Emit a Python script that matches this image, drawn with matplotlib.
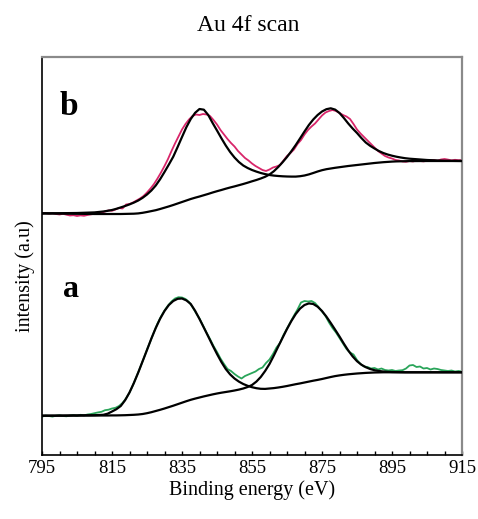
import numpy as np
import matplotlib
matplotlib.use("Agg")
import matplotlib.pyplot as plt
from matplotlib.ticker import MultipleLocator

plt.rcParams['font.family'] = ['Liberation Serif', 'DejaVu Serif']

# Binding energy grids (eV): measured spectra every 1 eV; fitted curves are
# sampled coarsely on the flat ends and every 1.25 eV across the peaks
energy_data = np.arange(795, 916, 1.0)
energy_fit = np.concatenate([[795, 800, 805, 810],
                             np.arange(812.5, 900.01, 1.25),
                             [905, 910, 915]])

# Spectrum a (green) and its two fitted components (peak + background)
spectrum_a = [
    38.3, 39.4, 39.0, 38.4, 39.3, 39.8, 39.0, 38.7, 39.5, 39.9,
    39.2, 40.2, 39.6, 40.5, 41.0, 41.8, 42.6, 43.2, 44.8, 45.3,
    46.5, 47.2, 49.0, 52.0, 56.5, 62.5, 70.0, 78.5, 87.0, 96.0,
    105.5, 114.0, 123.0, 131.5, 138.5, 144.5, 149.5, 153.5, 156.5, 157.8,
    157.5, 156.0, 153.0, 148.0, 142.0, 136.5, 129.5, 122.5, 116.0, 109.0,
    103.0, 96.5, 91.0, 86.0, 84.0, 81.0, 78.5, 76.5, 79.0, 80.5,
    82.0, 83.5, 86.0, 87.5, 92.0, 95.5, 101.0, 107.5, 112.0, 120.0,
    126.5, 133.0, 139.5, 145.5, 152.5, 154.0, 153.5, 154.0, 152.0, 148.0,
    143.5, 139.0, 132.5, 127.0, 122.5, 117.0, 111.5, 106.0, 102.5, 100.5,
    95.0, 91.0, 88.5, 88.0, 86.5, 87.0, 85.5, 86.5, 85.0, 84.5,
    85.0, 84.0, 84.5, 84.8, 86.5, 89.5, 90.0, 88.0, 88.5, 86.5,
    87.0, 85.5, 86.5, 86.0, 85.0, 84.5, 84.0, 84.5, 83.5, 84.0,
    83.5,
]
fit_a_peak1 = [
    39.3, 39.4, 39.6, 39.8,
    40.2, 41.3, 43.5, 45.8, 49.0, 54.8, 62.5, 72.0, 82.5, 93.8,
    105.0, 116.5, 127.0, 136.3, 144.0, 150.0, 154.0, 156.2, 156.5, 154.6,
    151.0, 144.2, 136.0, 127.3, 118.5, 109.6, 101.0, 93.0, 86.0, 80.6,
    76.5, 73.4, 71.0, 69.2, 67.8, 66.8, 66.2, 66.1, 66.5, 66.9,
    67.5, 68.2, 69.0, 69.9, 70.8, 71.6, 72.5, 73.4, 74.3, 75.1,
    76.0, 77.0, 78.0, 78.9, 79.6, 80.2, 80.7, 81.1, 81.5, 81.8,
    82.1, 82.3, 82.5, 82.6, 82.7, 82.7, 82.7, 82.7, 82.7, 82.7,
    82.7,
    82.7, 82.7, 82.7,
]
fit_a_peak2 = [
    39.3, 39.3, 39.4, 39.5,
    39.5, 39.5, 39.6, 39.6, 39.7, 39.8, 40.0, 40.2, 40.5, 41.0,
    41.8, 42.8, 44.0, 45.2, 46.5, 47.9, 49.3, 50.8, 52.3, 53.8,
    55.2, 56.4, 57.5, 58.6, 59.6, 60.6, 61.5, 62.3, 63.0, 63.7,
    64.5, 65.4, 66.5, 68.0, 70.0, 73.4, 78.0, 84.0, 91.0, 99.5,
    108.5, 117.3, 126.0, 134.0, 141.0, 146.5, 150.0, 151.6, 151.0, 148.3,
    144.0, 138.4, 132.0, 125.3, 118.5, 111.3, 104.5, 98.6, 93.8, 90.3,
    87.8, 86.0, 84.8, 84.0, 83.5, 83.2, 83.0, 82.9, 82.8, 82.7,
    82.7,
    82.7, 82.7, 82.7,
]

# Spectrum b (red) and its two fitted components
spectrum_b = [
    241.5, 242.0, 241.3, 241.8, 241.0, 240.5, 241.2, 240.3, 239.5, 239.8,
    239.0, 239.6, 239.2, 240.0, 240.6, 241.3, 242.5, 242.2, 243.5, 244.6,
    244.2, 245.5, 247.0, 246.5, 250.5, 251.0, 252.5, 254.5, 256.5, 259.0,
    262.5, 266.5, 271.0, 276.5, 282.5, 289.0, 296.0, 304.0, 311.5, 318.5,
    325.5, 331.0, 335.5, 339.0, 340.5, 340.0, 341.0, 340.5, 339.0, 335.0,
    330.5, 325.0, 320.5, 316.0, 312.0, 308.5, 304.0, 300.5, 297.0, 294.5,
    291.5, 289.0, 287.0, 285.0, 284.0, 285.5, 287.5, 288.5, 290.0, 294.5,
    299.0, 302.0, 305.5, 311.0, 315.0, 320.5, 325.0, 328.5, 331.5, 335.5,
    339.5, 342.5, 344.0, 345.0, 344.0, 342.0, 340.0, 338.5, 336.0, 331.0,
    325.5, 321.5, 318.0, 314.5, 311.0, 307.5, 304.0, 301.5, 299.0, 297.5,
    296.5, 295.0, 294.5, 293.5, 293.2, 294.0, 293.5, 294.5, 294.0, 293.6,
    294.2, 294.8, 295.0, 294.3, 295.5, 296.0, 295.4, 294.6, 295.2, 294.8,
    295.0,
]
fit_b_peak1 = [
    241.7, 241.8, 242.0, 242.6,
    243.5, 244.2, 245.0, 246.2, 247.6, 249.0, 250.6, 252.4, 254.5, 257.2,
    260.5, 264.5, 269.5, 275.8, 283.0, 290.5, 298.3, 308.0, 318.0, 327.8,
    336.0, 342.2, 346.0, 345.3, 340.0, 332.0, 324.5, 316.8, 309.5, 303.0,
    297.5, 293.0, 289.5, 287.0, 285.0, 283.4, 282.0, 280.9, 280.0, 279.4,
    279.0, 278.7, 278.5, 278.4, 278.4, 278.8, 279.5, 280.6, 282.0, 283.5,
    284.8, 285.8, 286.5, 287.2, 287.8, 288.4, 289.0, 289.5, 290.0, 290.5,
    291.0, 291.5, 292.0, 292.4, 292.8, 293.1, 293.4, 293.6, 293.7, 293.8,
    293.9,
    294.0, 294.0, 294.0,
]
fit_b_peak2 = [
    241.5, 241.4, 241.2, 241.0,
    241.0, 241.0, 241.0, 241.0, 241.0, 241.1, 241.2, 241.3, 241.6, 242.2,
    243.0, 243.9, 244.8, 246.0, 247.3, 248.6, 250.0, 251.5, 253.0, 254.5,
    256.0, 257.3, 258.5, 259.8, 261.1, 262.5, 263.8, 265.0, 266.3, 267.5,
    268.6, 269.8, 271.0, 272.3, 273.7, 275.0, 276.5, 278.2, 280.5, 283.8,
    288.0, 292.8, 298.0, 303.8, 310.0, 316.7, 323.5, 330.0, 335.5, 340.0,
    343.5, 345.8, 346.7, 345.4, 342.0, 337.0, 331.5, 326.5, 322.0, 317.0,
    312.5, 309.2, 306.5, 304.0, 302.0, 300.5, 299.3, 298.3, 297.5, 296.8,
    296.3,
    295.0, 294.2, 294.0,
]

x_ticks = [795, 815, 835, 855, 875, 895, 915]
panel_labels = ["a", "b"]

W, H = 478, 519
fig = plt.figure(figsize=(W / 100, H / 100), dpi=100)
ax = fig.add_axes([42 / W, 1 - 455 / H, 420 / W, 398 / H])

green = "#2aa55a"
red = "#d8266a"

ax.plot(energy_data, spectrum_a, color=green, lw=1.3, zorder=2)
ax.plot(energy_data, spectrum_b, color=red, lw=1.3, zorder=2)
for curve in (fit_a_peak1, fit_a_peak2, fit_b_peak1, fit_b_peak2):
    ax.plot(energy_fit, curve, color="black", lw=1.6, zorder=3,
            solid_joinstyle="round")

ax.set_xlim(795, 915)
ax.set_ylim(0, 398)
ax.set_xticks(x_ticks)
ax.xaxis.set_minor_locator(MultipleLocator(5))
ax.set_yticks([])
ax.tick_params(axis="x", which="both", direction="in", length=3.2, width=1,
               labelsize=13.5, pad=3.6, colors="black")
ax.tick_params(axis="x", which="both", top=False)

for side in ("left", "bottom"):
    ax.spines[side].set_color("black")
    ax.spines[side].set_linewidth(1.2)
for side in ("top", "right"):
    ax.spines[side].set_color("#8a8a8a")
    ax.spines[side].set_linewidth(1.6)

ax.text(801.0, 158, panel_labels[0], fontsize=23, fontweight="bold",
        ha="left", va="baseline")
ax.text(800.1, 340, panel_labels[1], fontsize=24, fontweight="bold",
        ha="left", va="baseline")

fig.text(248 / W, 1 - 30.7 / H, "Au 4f scan", fontsize=17,
         ha="center", va="baseline")
fig.text(252 / W, 1 - 495 / H, "Binding energy (eV)", fontsize=14.5,
         ha="center", va="baseline")
fig.text(25 / W, 1 - 276 / H, "intensity (a.u)", fontsize=14.5,
         rotation=90, ha="center", va="center")

fig.savefig("out.png", dpi=100)
